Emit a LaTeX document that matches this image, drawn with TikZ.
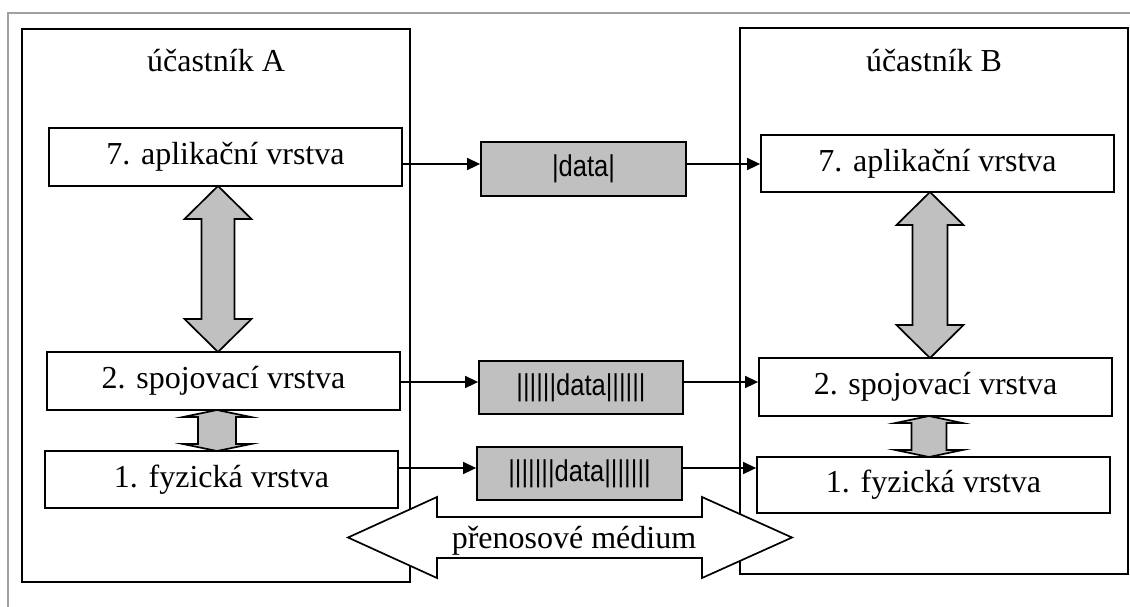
\documentclass[tikz,border=0pt]{standalone}
\usepackage{fontspec}
\setmainfont{Liberation Serif}
\newfontfamily\datafont{Liberation Sans}
\usetikzlibrary{arrows.meta}
\definecolor{silverfill}{HTML}{C0C0C0}
\definecolor{framegray}{HTML}{A0A0A0}
\newcommand\vblockarrow[6]{%
  % #1 x, #2 top tip y, #3 bottom tip y, #4 head length, #5 head half width, #6 shaft half width
  \draw[blockarrow] (#1,#2) -- ({#1+#5},{#2+#4}) -- ({#1+#6},{#2+#4}) -- ({#1+#6},{#3-#4})
    -- ({#1+#5},{#3-#4}) -- (#1,#3) -- ({#1-#5},{#3-#4}) -- ({#1-#6},{#3-#4})
    -- ({#1-#6},{#2+#4}) -- ({#1-#5},{#2+#4}) -- cycle;}
\begin{document}
\begin{tikzpicture}[x=1pt,y=-1pt,
  bigtext/.style={font=\fontsize{32}{36}\selectfont},
  partbox/.style={draw=black, line width=1.8pt, inner sep=0pt, fill=white},
  layerbox/.style={draw=black, line width=1.8pt, inner sep=0pt, fill=white,
    minimum width=353pt, font=\fontsize{32}{36}\selectfont},
  databox/.style={draw=black, line width=1.8pt, inner sep=0pt, fill=silverfill,
    font=\datafont\fontsize{25.5}{30}\selectfont},
  conn/.style={draw=black, line width=1.6pt, -{Triangle[length=13pt,width=12pt]}},
  blockarrow/.style={draw=black, line width=1.7pt, fill=silverfill, line join=miter},
  mediumarrow/.style={draw=black, line width=1.7pt, fill=white, line join=miter}]
\useasboundingbox (0,0) rectangle (1130,606);
\fill[white] (0,0) rectangle (1130,606);
% outer gray frame
\draw[framegray, line width=2pt] (7.5,640) -- (7.5,12.5) -- (1160,12.5);

% participants
\node[partbox, minimum width=388pt, minimum height=553pt] (A) at (216,305.5) {};
\node[partbox, minimum width=388pt, minimum height=546pt] (B) at (934,301) {};
\node[bigtext, anchor=base] (Alabel) at (216,71) {účastník A};
\node[bigtext, anchor=base] (Blabel) at (934,71) {účastník B};

% layers
\node[layerbox, minimum height=58pt] (a7) at (225.5,157) {7. aplikační vrstva};
\node[layerbox, minimum height=58pt] (a2) at (223.5,381) {2. spojovací vrstva};
\node[layerbox, minimum height=57pt] (a1) at (221.5,479.5) {1. fyzická vrstva};
\node[layerbox, minimum height=57pt] (b7) at (937.5,163.5) {7. aplikační vrstva};
\node[layerbox, minimum height=58pt] (b2) at (935.5,387) {2. spojovací vrstva};
\node[layerbox, minimum height=56pt] (b1) at (933.5,485) {1. fyzická vrstva};

% data packets
\node[databox, minimum width=205pt, minimum height=54pt] (d1) at (583.5,169)
  {\scalebox{1}[1.18]{|data|}};
\node[databox, minimum width=204pt, minimum height=53pt] (d2) at (581,387.5)
  {\scalebox{1}[1.18]{||||||data||||||}};
\node[databox, minimum width=205pt, minimum height=53pt] (d3) at (579.5,473.5)
  {\scalebox{1}[1.18]{|||||||data|||||||}};

% connectors
\draw[conn] (a7.east |- 0,164) -- (d1.west |- 0,164);
\draw[conn] (d1.east |- 0,164) -- (b7.west |- 0,164);
\draw[conn] (a2.east |- 0,382) -- (d2.west |- 0,382);
\draw[conn] (d2.east |- 0,382) -- (b2.west |- 0,382);
\draw[conn] (a1.east |- 0,468) -- (d3.west |- 0,468);
\draw[conn] (d3.east |- 0,468) -- (b1.west |- 0,468);

% vertical block arrows between layers
\vblockarrow{218}{186}{352}{33}{33.5}{16.5}
\vblockarrow{930}{192}{358}{33}{33.5}{17.5}
\vblockarrow{217}{410}{451}{7}{34}{19}
\vblockarrow{929}{416}{457}{7}{33.5}{17.5}

% transmission medium
\draw[mediumarrow] (348,537.5) -- (437,497) -- (437,517) -- (702,517) -- (702,497)
  -- (792,537.5) -- (702,578) -- (702,558) -- (437,558) -- (437,578) -- cycle;
\node[bigtext, anchor=base] (medium) at (574,548) {přenosové médium};
\end{tikzpicture}
\end{document}
